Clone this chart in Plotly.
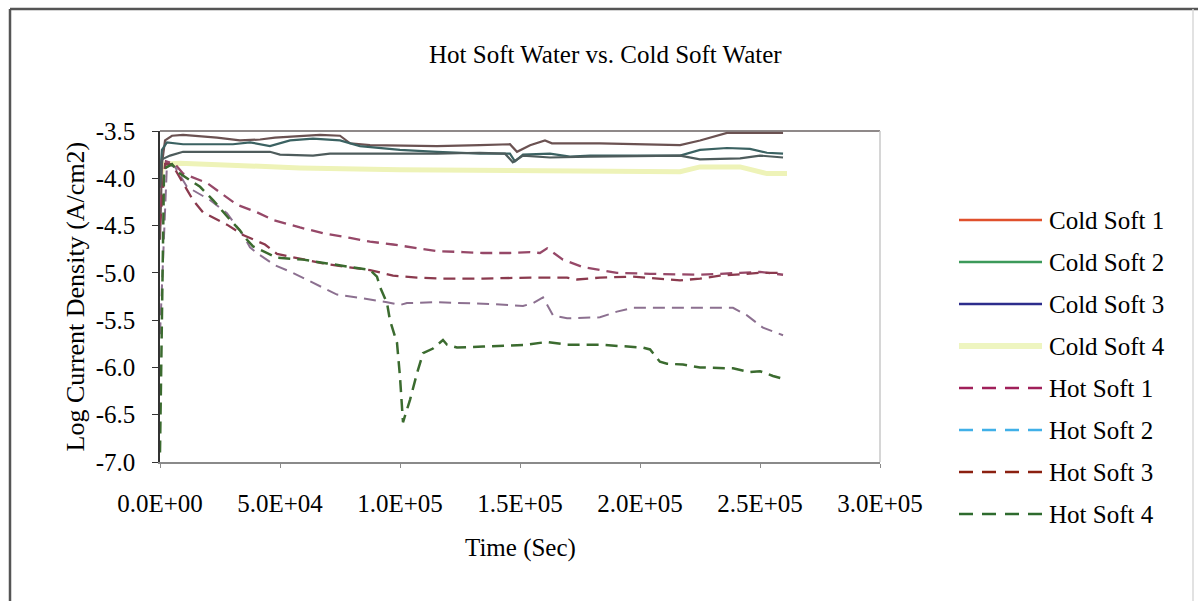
import plotly.graph_objects as go

# ---------------- data (time in seconds, log current density) ----------------
cold1_t = [0, 800, 2100, 5000, 9600, 23750, 33300, 41700, 47900, 58300, 66700, 75000, 79200, 87500,
           115400, 133300, 145800, 148750, 154200, 160400, 163300, 183300, 216700, 225000, 236250, 259600]
cold1_v = [-4.65, -3.85, -3.60, -3.55, -3.54, -3.57, -3.60, -3.59, -3.57, -3.55, -3.54, -3.55, -3.63, -3.65,
           -3.66, -3.65, -3.64, -3.72, -3.65, -3.60, -3.63, -3.63, -3.65, -3.60, -3.52, -3.52]

cold2_t = [0, 800, 2900, 9600, 30400, 37500, 45800, 54200, 63750, 75000, 83300, 100000, 115400, 133300,
           145800, 147900, 151250, 162500, 170800, 179200, 200000, 216700, 225000, 236250, 245800, 252900, 259600]
cold2_v = [-4.00, -3.70, -3.62, -3.64, -3.64, -3.62, -3.66, -3.60, -3.58, -3.60, -3.66, -3.70, -3.72, -3.74,
           -3.74, -3.82, -3.75, -3.74, -3.77, -3.76, -3.76, -3.76, -3.70, -3.68, -3.69, -3.73, -3.74]

cold3_t = [0, 800, 4200, 9600, 45800, 50000, 63750, 70800, 115400, 133300, 143750, 147000, 151250,
           162500, 179200, 208300, 216700, 225000, 241700, 250000, 259600]
cold3_v = [-4.10, -3.80, -3.76, -3.72, -3.72, -3.75, -3.76, -3.74, -3.74, -3.73, -3.74, -3.83, -3.76,
           -3.78, -3.77, -3.76, -3.76, -3.80, -3.79, -3.76, -3.78]

cold4_t = [0, 1250, 8300, 44600, 58300, 100000, 141700, 183300, 216700, 225000, 241700, 252900, 261250]
cold4_v = [-4.05, -3.85, -3.84, -3.87, -3.89, -3.91, -3.92, -3.93, -3.93, -3.88, -3.88, -3.95, -3.95]

hot1_t = [0, 2500, 6250, 9600, 19600, 25800, 32100, 40400, 47100, 58300, 67900, 79200, 87500, 97100,
          107100, 115400, 126300, 134600, 145800, 154200, 158300, 161300, 167900, 176300, 183300, 190400,
          204200, 225000, 241700, 250000, 259600]
hot1_v = [-4.30, -3.82, -3.85, -3.95, -4.05, -4.16, -4.28, -4.36, -4.44, -4.52, -4.58, -4.63, -4.67, -4.70,
          -4.74, -4.77, -4.78, -4.79, -4.79, -4.78, -4.79, -4.74, -4.86, -4.94, -4.97, -5.00,
          -5.01, -5.02, -5.00, -4.99, -5.02]

hot2_t = [0, 1700, 2900, 6250, 11250, 20800, 27900, 34600, 37500, 40400, 47900, 55400, 65400, 73750,
          84600, 94600, 100000, 102900, 115400, 127900, 138750, 151250, 155400, 159600, 163750, 169600,
          183300, 190400, 197100, 225000, 238750, 244600, 251250, 259600]
hot2_v = [-5.65, -4.50, -3.85, -3.88, -4.09, -4.23, -4.37, -4.60, -4.73, -4.79, -4.92, -5.00, -5.13, -5.23,
          -5.27, -5.31, -5.34, -5.32, -5.31, -5.32, -5.33, -5.35, -5.32, -5.26, -5.45, -5.48,
          -5.47, -5.41, -5.37, -5.37, -5.37, -5.45, -5.58, -5.66]

hot3_t = [0, 2100, 5000, 9600, 13750, 17900, 27900, 34600, 41700, 43750, 48750, 58300, 67900, 77900,
          87500, 97100, 107100, 117900, 134600, 154200, 169600, 173750, 183300, 197100, 216700, 225000,
          233300, 250000, 259600]
hot3_v = [-4.50, -3.85, -3.85, -4.05, -4.23, -4.36, -4.49, -4.60, -4.68, -4.70, -4.80, -4.85, -4.90, -4.94,
          -4.97, -5.03, -5.05, -5.06, -5.06, -5.05, -5.05, -5.07, -5.05, -5.04, -5.08, -5.06,
          -5.03, -5.00, -5.00]

hot4_t = [0, 1700, 5000, 8300, 16700, 22100, 29200, 33300, 36250, 38750, 48750, 59600, 69600, 79200,
          87500, 90400, 91700, 94600, 95800, 98750, 100000, 101250, 102900, 104200, 107100, 109600,
          113750, 117900, 119600, 123750, 134600, 144600, 152900, 161250, 169600, 183300, 201250,
          204200, 208300, 211250, 217900, 225000, 238750, 245800, 250000, 255400, 259600]
hot4_v = [-6.90, -3.90, -3.85, -3.95, -4.09, -4.23, -4.44, -4.55, -4.65, -4.72, -4.84, -4.86, -4.90, -4.94,
          -4.97, -5.04, -5.15, -5.32, -5.50, -5.74, -6.10, -6.58, -6.45, -6.34, -6.06, -5.85,
          -5.80, -5.71, -5.76, -5.79, -5.78, -5.77, -5.76, -5.73, -5.76, -5.76, -5.79,
          -5.81, -5.94, -5.96, -5.97, -6.00, -6.01, -6.05, -6.04, -6.09, -6.12]

series_names = ["Cold Soft 1", "Cold Soft 2", "Cold Soft 3", "Cold Soft 4",
                "Hot Soft 1", "Hot Soft 2", "Hot Soft 3", "Hot Soft 4"]
x_tick_vals = [0, 50000, 100000, 150000, 200000, 250000, 300000]
x_tick_text = ["0.0E+00", "5.0E+04", "1.0E+05", "1.5E+05", "2.0E+05", "2.5E+05", "3.0E+05"]
y_tick_vals = [-7.0, -6.5, -6.0, -5.5, -5.0, -4.5, -4.0, -3.5]
y_tick_text = ["-7.0", "-6.5", "-6.0", "-5.5", "-5.0", "-4.5", "-4.0", "-3.5"]

# ---------------- styling ----------------
FONT = "Liberation Serif"
FS = 25
plot_colors = ["#6B5252", "#3B6262", "#4E5C5C", "#EEF3B8",
               "#964868", "#8C7090", "#8B3A4E", "#3B6B2F"]
legend_colors = ["#E0502C", "#3C9A5A", "#2C2C8C", "#EEF5C0",
                 "#A0205A", "#40B0E8", "#8B2010", "#2E6B2E"]
widths = [2.2, 2.2, 2.2, 5, 2.3, 2.0, 2.3, 2.5]
dashes = ["solid"] * 4 + ["12px,7px"] * 4

data_t = [cold1_t, cold2_t, cold3_t, cold4_t, hot1_t, hot2_t, hot3_t, hot4_t]
data_v = [cold1_v, cold2_v, cold3_v, cold4_v, hot1_v, hot2_v, hot3_v, hot4_v]

# draw order: light yellow first so others sit on top
order = [3, 0, 1, 2, 4, 5, 6, 7]

fig = go.Figure()
for i in order:
    fig.add_trace(go.Scatter(x=data_t[i], y=data_v[i], mode="lines", name=series_names[i],
                             line=dict(color=plot_colors[i], width=widths[i], dash=dashes[i]),
                             showlegend=False))

# plot area in pixels: left 160, right 880, top 131, bottom 462
L, R, T, B = 160, 880, 131, 462
W, H = R - L, B - T
px = lambda p: (p - L) / W
py = lambda p: (B - p) / H

shapes = []
annotations = []

# outer chart frame
shapes.append(dict(type="line", xref="paper", yref="paper", x0=px(10), x1=px(1198), y0=py(9), y1=py(9),
                   line=dict(color="#555555", width=2.5)))
shapes.append(dict(type="line", xref="paper", yref="paper", x0=px(10), x1=px(10), y0=py(9), y1=py(601),
                   line=dict(color="#555555", width=2.5)))
shapes.append(dict(type="line", xref="paper", yref="paper", x0=px(1193), x1=px(1193), y0=py(9), y1=py(601),
                   line=dict(color="#D8D8D8", width=1.5)))
# plot area top and right border
shapes.append(dict(type="line", xref="paper", yref="paper", x0=0, x1=1, y0=1, y1=1,
                   line=dict(color="#6A6262", width=1.5)))
shapes.append(dict(type="line", xref="paper", yref="paper", x0=1, x1=1, y0=0, y1=1,
                   line=dict(color="#C8C8C8", width=1.5)))

# manual legend
for i, name in enumerate(series_names):
    yc = 220 + 42 * i
    shapes.append(dict(type="line", xref="paper", yref="paper", x0=px(959), x1=px(1042),
                       y0=py(yc), y1=py(yc),
                       line=dict(color=legend_colors[i], width=(6 if i == 3 else 2.5),
                                 dash=("solid" if i < 4 else "14px,9px"))))
    annotations.append(dict(text=name, xref="paper", yref="paper", x=px(1047), y=py(yc),
                            xanchor="left", yanchor="middle", showarrow=False,
                            font=dict(family=FONT, size=FS, color="black")))

# title and axis titles
annotations.append(dict(text="Hot Soft Water vs. Cold Soft Water", xref="paper", yref="paper",
                        x=px(605), y=py(55), xanchor="center", yanchor="middle", showarrow=False,
                        font=dict(family=FONT, size=FS, color="black")))
annotations.append(dict(text="Time (Sec)", xref="paper", yref="paper", x=0.5, y=py(548),
                        xanchor="center", yanchor="middle", showarrow=False,
                        font=dict(family=FONT, size=FS, color="black")))
annotations.append(dict(text="Log Current Density (A/cm2)", xref="paper", yref="paper", x=px(75), y=0.5,
                        xanchor="center", yanchor="middle", showarrow=False, textangle=-90,
                        font=dict(family=FONT, size=FS + 1, color="black")))

fig.update_layout(
    width=1198, height=601,
    margin=dict(l=L, r=1198 - R, t=T, b=601 - B, pad=0),
    paper_bgcolor="white", plot_bgcolor="white",
    font=dict(family=FONT, size=FS, color="black"),
    shapes=shapes, annotations=annotations,
    showlegend=False,
)
fig.update_xaxes(range=[0, 300000], tickvals=x_tick_vals, ticktext=x_tick_text,
                 showgrid=False, zeroline=False, showline=True, linecolor="#8A8A8A", linewidth=1.5,
                 ticks="outside", ticklen=4, tickcolor="#8A8A8A", ticklabelstandoff=14,
                 tickfont=dict(family=FONT, size=FS, color="black"))
fig.update_yaxes(range=[-7.0, -3.5], tickvals=y_tick_vals, ticktext=y_tick_text,
                 showgrid=False, zeroline=False, showline=True, linecolor="#333333", linewidth=1.5,
                 ticks="outside", ticklen=6, tickcolor="#333333", ticklabelstandoff=12,
                 tickfont=dict(family=FONT, size=FS, color="black"))

fig.write_html("out.html")
